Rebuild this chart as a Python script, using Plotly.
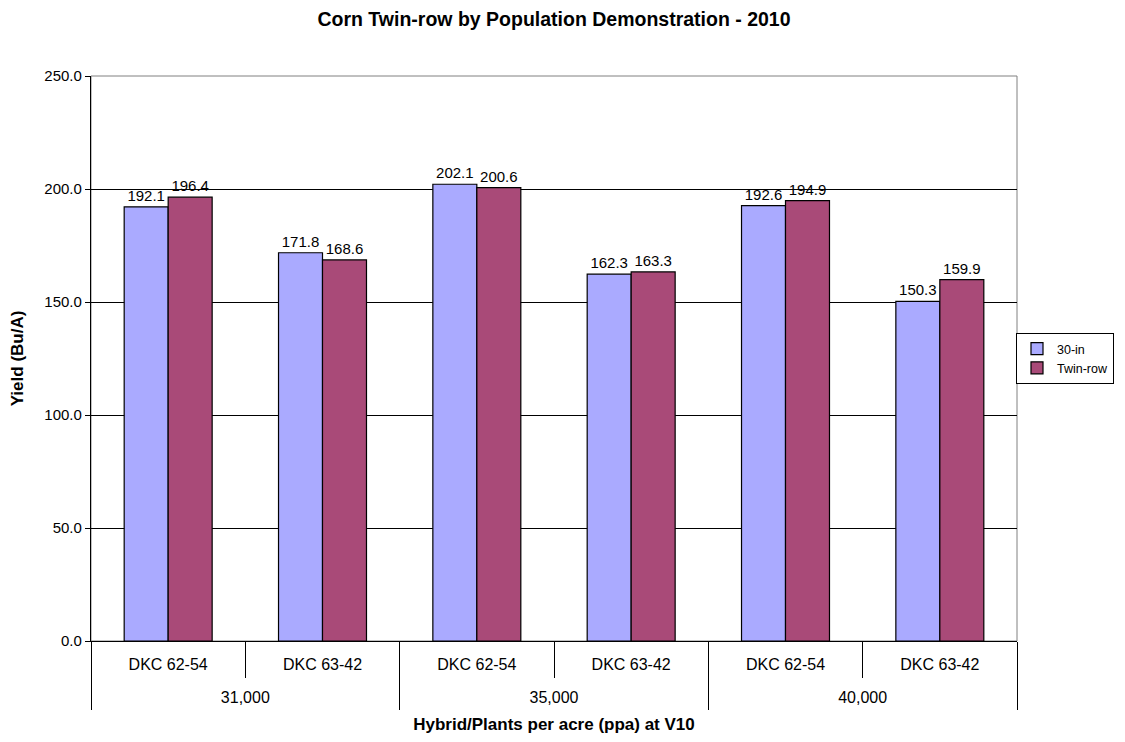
import plotly.graph_objects as go

populations = ["31,000", "31,000", "35,000", "35,000", "40,000", "40,000"]
hybrids = ["DKC 62-54", "DKC 63-42", "DKC 62-54", "DKC 63-42", "DKC 62-54", "DKC 63-42"]
yield_30in = [192.1, 171.8, 202.1, 162.3, 192.6, 150.3]
yield_twin = [196.4, 168.6, 200.6, 163.3, 194.9, 159.9]

font_family = "Liberation Sans, Arial, sans-serif"

# page body has an 8px margin; size the figure so it fits the 1125x742 window
W, H = 1109, 726
L, R, T, B = 83, 100, 68, 93
plot_w = W - L - R

n = len(hybrids)
idx = list(range(n))
inner_bounds = [i + 0.5 for i in range(n - 1) if populations[i] == populations[i + 1]]
outer_bounds = [-0.5] + [i + 0.5 for i in range(n - 1) if populations[i] != populations[i + 1]] + [n - 0.5]
pop_names, pop_centers = [], []
for i, p in enumerate(populations):
    if not pop_names or pop_names[-1] != p:
        pop_names.append(p)
        members = [j for j in idx if populations[j] == p]
        pop_centers.append(sum(members) / len(members))

fig = go.Figure()
fig.add_trace(go.Bar(
    name="30-in", x=[populations, hybrids], y=yield_30in,
    marker=dict(color="#AAAAFF", line=dict(color="black", width=1.2)),
    text=[f"{v:.1f}" for v in yield_30in], textposition="outside",
    textfont=dict(size=15, color="black"), cliponaxis=False,
))
fig.add_trace(go.Bar(
    name="Twin-row", x=[populations, hybrids], y=yield_twin,
    marker=dict(color="#A94A78", line=dict(color="black", width=1.2)),
    text=[f"{v:.1f}" for v in yield_twin], textposition="outside",
    textfont=dict(size=15, color="black"), cliponaxis=False,
))

fig.update_layout(
    width=W, height=H,
    margin=dict(l=L, r=R, t=T, b=B, autoexpand=False),
    paper_bgcolor="white", plot_bgcolor="white",
    font=dict(family=font_family, size=16, color="black"),
    barmode="group", bargap=0.43, bargroupgap=0,
    title=dict(text="<b>Corn Twin-row by Population Demonstration - 2010</b>",
               x=0.5, xanchor="center", xref="paper",
               y=1 - 11 / H, yanchor="middle", yref="container",
               font=dict(size=19.5)),
    legend=dict(x=(1106 - L) / plot_w, xanchor="right", y=0.5, yanchor="middle",
                bordercolor="black", borderwidth=1, bgcolor="white",
                font=dict(size=12.5), itemwidth=30, tracegroupgap=2),
    shapes=[dict(type="rect", xref="paper", yref="paper", x0=0, x1=1, y0=0, y1=1,
                 line=dict(color="#808080", width=1), layer="below")],
    xaxis=dict(
        type="multicategory", range=[-0.5, n - 0.5], automargin=False,
        showticklabels=False, showdividers=False, ticks="",
        showline=True, linecolor="black", linewidth=1.2,
    ),
    xaxis2=dict(
        type="linear", overlaying="x", anchor="y", side="bottom",
        range=[-0.5, n - 0.5], automargin=False,
        tickmode="array", tickvals=idx, ticktext=hybrids, ticks="",
        ticklabelstandoff=12, tickfont=dict(size=16),
        showgrid=False, zeroline=False, showline=False,
        minor=dict(tickmode="array", tickvals=inner_bounds, ticks="outside",
                   ticklen=36, tickcolor="black", tickwidth=1, showgrid=False),
    ),
    xaxis3=dict(
        type="linear", overlaying="x", anchor="y", side="bottom",
        range=[-0.5, n - 0.5], automargin=False,
        tickmode="array", tickvals=pop_centers, ticktext=pop_names, ticks="",
        ticklabelstandoff=45, tickfont=dict(size=16),
        showgrid=False, zeroline=False, showline=False,
        minor=dict(tickmode="array", tickvals=outer_bounds, ticks="outside",
                   ticklen=68, tickcolor="black", tickwidth=1, showgrid=False),
        title=dict(text="<b>Hybrid/Plants per acre (ppa) at V10</b>",
                   font=dict(size=17), standoff=15),
    ),
    yaxis=dict(
        range=[0, 250], dtick=50, tickformat=".1f", automargin=False,
        showgrid=True, gridcolor="black", gridwidth=1,
        showline=True, linecolor="black", linewidth=1.2,
        ticks="outside", ticklen=5, tickcolor="black",
        tickfont=dict(size=15),
        title=dict(text="<b>Yield (Bu/A)</b>", font=dict(size=17), standoff=16),
        zeroline=False,
    ),
)
# invisible traces so the overlay label axes are drawn
fig.add_trace(go.Scatter(x=[idx[0]], y=[0], xaxis="x2", yaxis="y", mode="markers",
                         marker=dict(opacity=0), showlegend=False, hoverinfo="skip"))
fig.add_trace(go.Scatter(x=[idx[0]], y=[0], xaxis="x3", yaxis="y", mode="markers",
                         marker=dict(opacity=0), showlegend=False, hoverinfo="skip"))

fig.write_html("out.html")
